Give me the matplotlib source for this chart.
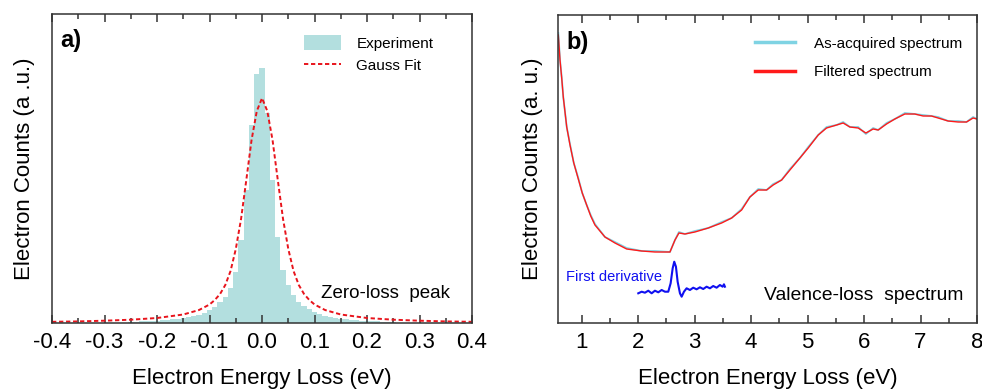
import matplotlib
matplotlib.use("Agg")
import matplotlib.pyplot as plt
from matplotlib.patches import Patch
from matplotlib.lines import Line2D
from matplotlib.ticker import MultipleLocator

plt.rcParams["font.family"] = ["Liberation Sans", "DejaVu Sans"]

TEAL = "#b3dfdf"
RED = "#e8141c"
CYAN = "#7fd3e3"
BLUE = "#1010f0"
SPINE = "#333333"

# ---- panel a: zero-loss peak (heights in arbitrary units) ----
hist_x = [-0.25, -0.24, -0.23, -0.22, -0.21, -0.20, -0.19, -0.18, -0.17, -0.16,
          -0.15, -0.14, -0.13, -0.12, -0.11, -0.10, -0.09, -0.08, -0.07, -0.06,
          -0.05, -0.04, -0.03, -0.02, -0.01, 0.00, 0.01, 0.02, 0.03, 0.04,
          0.05, 0.06, 0.07, 0.08, 0.09, 0.10, 0.11, 0.12, 0.13, 0.14,
          0.15, 0.16, 0.17, 0.18, 0.19, 0.20, 0.21, 0.22, 0.23, 0.24, 0.25]
hist_y = [1, 1, 1.5, 1.5, 2, 2, 2.5, 3, 3.5, 4,
          5, 6, 7, 8, 10, 13, 16, 21, 26, 35,
          51, 83, 133, 198, 249, 255, 210, 143, 86, 53,
          38, 28, 21, 17, 14, 11, 9, 7, 6, 5,
          4, 3.5, 3, 2.5, 2, 2, 1.5, 1.5, 1, 1, 1]

fit_x = [-0.40, -0.35, -0.30, -0.25, -0.20, -0.15, -0.12, -0.10, -0.09, -0.08,
         -0.07, -0.06, -0.05, -0.04, -0.03, -0.02, -0.01, 0.00, 0.01, 0.02,
         0.03, 0.04, 0.05, 0.06, 0.07, 0.08, 0.09, 0.10, 0.12, 0.15,
         0.20, 0.25, 0.30, 0.35, 0.40]
fit_y = [1.2, 1.6, 2.3, 3.3, 5, 8.5, 13, 18.5, 23, 29,
         38, 52, 74, 104, 143, 183, 212, 225, 212, 183,
         143, 104, 74, 52, 38, 29, 23, 18.5, 13, 8.5,
         5, 3.3, 2.3, 1.6, 1.2]

# ---- panel b: valence-loss spectrum ----
spec_x = [0.586, 0.616, 0.646, 0.674, 0.735, 0.793, 0.860, 0.940, 1.010, 1.088,
          1.160, 1.235, 1.412, 1.589,
          1.796, 2.062, 2.297, 2.563, 2.652, 2.722, 2.828, 3.005, 3.241, 3.478,
          3.655, 3.832, 3.979, 4.126, 4.274, 4.391, 4.540, 4.687, 4.864, 5.011,
          5.188, 5.336, 5.513, 5.630, 5.749, 5.896, 6.032, 6.161, 6.250, 6.398,
          6.545, 6.722, 6.899, 7.046, 7.195, 7.312, 7.489, 7.665, 7.814, 7.931, 8.0]
filtered = [288, 263, 245, 226, 196, 178, 160, 144, 130, 118,
            107, 98, 86, 80,
            74, 72, 71, 71, 83, 90, 89, 91, 95, 100,
            105, 113, 126, 133, 133, 138, 143, 153, 165, 175,
            188, 195, 198, 200, 196, 195, 190, 194, 193, 199,
            204, 209, 209, 207, 207, 205, 202, 201, 201, 205, 204]
acquired = [290, 263, 246, 226, 196, 179, 160, 145, 130, 118,
            108, 99, 86, 81,
            75, 72, 72, 71, 83, 91, 89, 92, 95, 101,
            105, 114, 126, 134, 133, 139, 143, 154, 165, 176,
            188, 196, 198, 201, 196, 196, 189, 195, 193, 200,
            204, 210, 209, 208, 207, 206, 202, 202, 201, 206, 204]

deriv_x = [2.002, 2.062, 2.120, 2.179, 2.239, 2.297, 2.356, 2.416, 2.474, 2.533,
           2.575, 2.611, 2.639, 2.669, 2.699, 2.740, 2.770, 2.811, 2.858, 2.917,
           2.975, 3.035, 3.094, 3.152, 3.212, 3.271, 3.329, 3.389, 3.448, 3.496,
           3.519, 3.536]
deriv_y = [29.7, 31.3, 30.3, 32.3, 29.7, 32.3, 30.7, 33, 31.3, 31.3,
           39.7, 54.7, 61.3, 56.3, 41.3, 29.7, 26.3, 31.3, 34.7, 33,
           35.3, 33.7, 35.7, 34, 36.3, 34.7, 37, 35.3, 38, 36.3,
           38.7, 36.3]

fig = plt.figure(figsize=(9.82, 3.9), dpi=100)
fig.patch.set_facecolor("white")
ax1 = fig.add_axes([0.053, 0.1718, 0.4277, 0.792])
ax2 = fig.add_axes([0.5682, 0.1718, 0.4267, 0.7897])


def style(ax):
    for s in ax.spines.values():
        s.set_linewidth(1.1)
        s.set_color(SPINE)
    ax.tick_params(axis="x", which="both", direction="in", top=True, bottom=True,
                   color=SPINE, width=1.1, labelsize=16, pad=6.5)
    ax.tick_params(axis="x", which="major", length=5.5)
    ax.tick_params(axis="x", which="minor", length=3.5)
    ax.tick_params(axis="y", which="both", left=False, right=False,
                   labelleft=False)


# panel a
ax1.bar(hist_x, hist_y, width=0.0101, color=TEAL, linewidth=0, zorder=1)
ax1.plot(fit_x, fit_y, color=RED, lw=1.4, dashes=(2.2, 1.4), zorder=2)
ax1.set_xlim(-0.4, 0.4)
ax1.set_ylim(0, 309)
ax1.xaxis.set_major_locator(MultipleLocator(0.1))
ax1.xaxis.set_minor_locator(MultipleLocator(0.05))
ax1.set_xticklabels([f"{v:.1f}" for v in ax1.get_xticks()])
style(ax1)
ax1.set_xlabel("Electron Energy Loss (eV)", fontsize=16, labelpad=10.5)
ax1.set_ylabel("Electron Counts (a .u.)", fontsize=16, labelpad=12)
ax1.text(0.02, 0.913, "a)", transform=ax1.transAxes, fontsize=17,
         fontweight="bold", va="center", ha="left")
ax1.text(0.948, 0.094, "Zero-loss  peak", transform=ax1.transAxes,
         fontsize=13.5, ha="right", va="center")
h1 = [Patch(facecolor=TEAL, edgecolor="none"),
      Line2D([], [], color=RED, lw=1.4, dashes=(2.2, 1.4))]
ax1.legend(h1, ["Experiment", "Gauss Fit"], loc="upper left",
           bbox_to_anchor=(0.6, 0.933), frameon=False, fontsize=11,
           handlelength=2.42, handleheight=1.18, handletextpad=1.0,
           labelspacing=0.45, borderpad=0, borderaxespad=0)

# panel b
ax2.plot(spec_x, acquired, color=CYAN, lw=1.3, zorder=1)
ax2.plot(spec_x, filtered, color="#ff1a1a", lw=1.0, zorder=2)
ax2.plot(deriv_x, deriv_y, color=BLUE, lw=1.5, zorder=2)
ax2.set_xlim(0.58, 8)
ax2.set_ylim(0, 308)
ax2.xaxis.set_major_locator(MultipleLocator(1))
ax2.xaxis.set_minor_locator(MultipleLocator(0.5))
style(ax2)
ax2.set_xlabel("Electron Energy Loss (eV)", fontsize=16, labelpad=10.5)
ax2.set_ylabel("Electron Counts (a. u.)", fontsize=16, labelpad=10.5)
ax2.text(0.02, 0.91, "b)", transform=ax2.transAxes, fontsize=17,
         fontweight="bold", va="center", ha="left")
ax2.text(0.9666, 0.09, "Valence-loss  spectrum", transform=ax2.transAxes,
         fontsize=13.9, ha="right", va="center")
ax2.text(0.02, 0.15, "First derivative", transform=ax2.transAxes,
         fontsize=10.5, color=BLUE, ha="left", va="center")
h2 = [Line2D([], [], color=CYAN, lw=2.5), Line2D([], [], color="#ff1a1a", lw=2.5)]
ax2.legend(h2, ["As-acquired spectrum", "Filtered spectrum"], loc="upper left",
           bbox_to_anchor=(0.47, 0.93), frameon=False, fontsize=11,
           handlelength=2.6, handletextpad=1.24, labelspacing=0.95,
           borderpad=0, borderaxespad=0)

fig.savefig("out.png", dpi=100)
